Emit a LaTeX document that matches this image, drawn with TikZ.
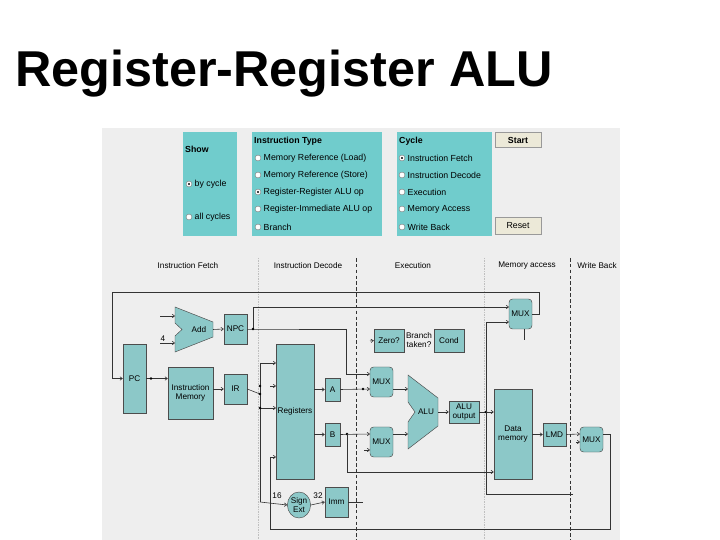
\documentclass[tikz,border=0pt]{standalone}
\usepackage{fontspec}
\setmainfont{Liberation Sans}
\usetikzlibrary{arrows.meta,positioning,shapes.geometric}
\definecolor{panelteal}{RGB}{112,204,204}
\definecolor{blockteal}{RGB}{140,200,200}
\definecolor{panelgray}{RGB}{238,238,238}
\definecolor{btngray}{RGB}{236,233,216}
\tikzset{
    % diagram blocks
    blk/.style={
        rectangle, draw=black!70, fill=blockteal, inner sep=0pt,
        font=\fontsize{7}{7.5}\selectfont, align=center
    },
    muxbox/.style={
        blk, rounded corners=3pt, minimum width=0.69cm, minimum height=0.9cm
    },
    wire/.style={
        draw=black!80, line width=0.5pt
    },
    arrow/.style={
        wire, -{Straight Barb[length=2pt,width=3pt]}
    },
    jdot/.style={
        circle, fill=black, inner sep=0pt, minimum size=2.5pt
    },
    stage/.style={
        font=\fontsize{7}{7.5}\selectfont
    },
    small/.style={
        font=\fontsize{7}{7.5}\selectfont, inner sep=1pt
    },
    panel/.style={
        fill=panelteal, draw=none
    },
    radio/.style={
        circle, draw=black!50, fill=white, inner sep=0pt, minimum size=5pt
    },
    option/.style={
        font=\fontsize{7.5}{8}\selectfont, anchor=west, inner sep=0pt, xshift=2pt
    }
}
\begin{document}
\begin{tikzpicture}[x=0.03cm, y=-0.03cm]
\useasboundingbox (0,0) rectangle (720,540);

% title
\node[anchor=base west, font=\fontsize{43}{46}\selectfont\bfseries, inner sep=0pt] (title) at (15,87) {Register-Register ALU};

% background
\fill[panelgray] (102,128) rectangle (620,540);

% control panel
\fill[panel] (183,132) rectangle (237,236);
\fill[panel] (252,132) rectangle (382,236);
\fill[panel] (397,132) rectangle (492,236);
\node[option, font=\fontsize{7.5}{8}\selectfont\bfseries, xshift=-2pt] (show) at (185,149) {Show};
\node[radio, label={[option]right:by cycle}] (bycycle) at (189,184) {};
\fill (bycycle) circle (1.1);
\node[radio, label={[option]right:all cycles}] (allcycles) at (189,217) {};
\node[option, font=\fontsize{7.5}{8}\selectfont\bfseries, xshift=-2pt] (itype) at (254,141) {Instruction Type};
\node[radio, label={[option]right:Memory Reference (Load)}] (rload) at (258,158) {};
\node[radio, label={[option]right:Memory Reference (Store)}] (rstore) at (258,175) {};
\node[radio, label={[option]right:Register-Register ALU op}] (rrr) at (258,192) {};
\fill (rrr) circle (1.1);
\node[radio, label={[option]right:Register-Immediate ALU op}] (rri) at (258,209) {};
\node[radio, label={[option]right:Branch}] (rbr) at (258,227) {};
\node[option, font=\fontsize{7.5}{8}\selectfont\bfseries, xshift=-2pt] (cycle) at (399,141) {Cycle};
\node[radio, label={[option]right:Instruction Fetch}] (cif) at (402,158) {};
\fill (cif) circle (1.1);
\node[radio, label={[option]right:Instruction Decode}] (cid) at (402,175) {};
\node[radio, label={[option]right:Execution}] (cex) at (402,192) {};
\node[radio, label={[option]right:Memory Access}] (cma) at (402,209) {};
\node[radio, label={[option]right:Write Back}] (cwb) at (402,227) {};
\node[draw=black!40, fill=btngray, minimum width=1.38cm, minimum height=0.45cm, font=\fontsize{7.5}{8}\selectfont\bfseries] (start) at (518,140) {Start};
\node[draw=black!40, fill=btngray, minimum width=1.38cm, minimum height=0.51cm, font=\fontsize{7.5}{8}\selectfont] (reset) at (518,226) {Reset};

% stage labels and separators
\node[stage] (sif) at (188,266) {Instruction Fetch};
\node[stage] (sid) at (308,266) {Instruction Decode};
\node[stage] (sex) at (413,266) {Execution};
\node[stage] (sma) at (527,266) {Memory access};
\node[stage] (swb) at (597,266) {Write Back};
\draw[densely dashed, black!80] (356,258) -- (356,540);
\draw[densely dashed, black!80] (570,258) -- (570,540);
\draw[densely dotted, black!25] (258,258) -- (258,540);
\draw[densely dotted, black!25] (484,258) -- (484,540);

% blocks
\node[blk, minimum width=0.69cm, minimum height=2.07cm] (pc) at (134.5,378.5) {PC};
\node[blk, minimum width=0.69cm, minimum height=0.9cm] (npc) at (235.5,329) {NPC};
\node[blk, minimum width=1.35cm, minimum height=1.56cm] (imem) at (190.5,393) {Instruction\\Memory};
\node[blk, minimum width=0.69cm, minimum height=0.9cm] (ir) at (235.5,389) {IR};
\node[blk, minimum width=1.14cm, minimum height=4.05cm] (regs) at (295,411.5) {Registers};
\node[blk, minimum width=0.45cm, minimum height=0.69cm] (rega) at (332.5,389.5) {A};
\node[blk, minimum width=0.45cm, minimum height=0.69cm] (regb) at (332.5,434.5) {B};
\node[blk, minimum width=0.69cm, minimum height=0.9cm] (imm) at (336.5,502) {Imm};
\node[blk, ellipse, minimum width=0.66cm, minimum height=0.78cm] (sext) at (299,505) {Sign\\Ext};
\node[blk, minimum width=0.9cm, minimum height=0.69cm] (zero) at (389,340.5) {Zero?};
\node[blk, minimum width=0.9cm, minimum height=0.69cm] (cond) at (449,340.5) {Cond};
\node[small, align=center] (taken) at (419,340) {Branch\\taken?};
\node[muxbox] (muxa) at (381.5,382) {MUX};
\node[muxbox] (muxb) at (381.5,442) {MUX};
\node[muxbox] (muxpc) at (520.5,314) {MUX};
\node[muxbox, minimum height=0.75cm] (muxwb) at (591.5,439.5) {MUX};
\node[blk, minimum width=0.9cm, minimum height=0.66cm] (aluout) at (464,412) {ALU\\output};
\node[blk, minimum width=1.14cm, minimum height=2.7cm] (dmem) at (513,434) {Data\\memory};
\node[blk, minimum width=0.69cm, minimum height=0.69cm] (lmd) at (554.5,434.5) {LMD};

% adder and ALU
\draw[blk] (175,307) -- (213,322) -- (213,337) -- (175,352) -- (175,336) -- (182,329.5) -- (175,323) -- cycle;
\node[blk, draw=none, fill=none] (add) at (199,329.5) {Add};
\draw[blk] (408,375) -- (438,398) -- (438,426) -- (408,449) -- (408,422) -- (415,412) -- (408,402) -- cycle;
\node[blk, draw=none, fill=none] (alu) at (426,412) {ALU};

% named points
\coordinate (addina) at (175,316);
\coordinate (addinb) at (175,343);
\coordinate (addout) at (213,329.5);
\coordinate (loopl) at (112,292);
\coordinate (loopr) at (539,292);
\coordinate (npcj) at (253,329);
\coordinate (npcturn) at (346,329);
\coordinate (muxain) at (370,374);
\coordinate (muxaina) at (370,389);
\coordinate (muxbin) at (370,434);
\coordinate (muxbinb) at (370,450);
\coordinate (aluina) at (408,389);
\coordinate (aluinb) at (408,434);
\coordinate (aluo) at (438,412);
\coordinate (irbus) at (260,394);
\coordinate (aj) at (363,389);
\coordinate (bj) at (347,434);
\coordinate (oj) at (486,412);
\coordinate (wbj) at (486,494);
\coordinate (muxpcin) at (509,307);
\coordinate (muxpcinb) at (509,322);
\coordinate (wbend) at (573,494);
\coordinate (muxwbin) at (580,434);
\coordinate (wbr) at (610,529);
\coordinate (wbl) at (270,529);
\coordinate (regsin) at (276,457);

% fetch
\draw[arrow] (160,316) -- (addina);
\draw[arrow] (160,343) -- (addinb) node[pos=0.2, small, above] {4};
\draw[arrow] (addout) -- (npc.west);
\draw[arrow] (muxpc.east) -| (loopr) -- (loopl) |- (pc.west);
\draw[arrow] (pc.east) -- (pc.east -| imem.west);
\node[jdot] at (151,378.5) {};
\draw[arrow] (imem.east |- ir) -- (ir.west);
\draw[wire] (npc.east) -- (npcj) -- (npcturn);
\draw[arrow] (npcturn) |- (muxain);
\draw[arrow] (npcj) |- (muxpcin);
\node[jdot] at (npcj) {};

% decode
\draw[wire] (ir.east) -- (irbus);
\draw[wire] (260,363) -- (260,502);
\draw[arrow] (260,363) -- (276,363);
\draw[arrow] (270,386) -- (276,386);
\draw[arrow] (260,408) -- (276,408);
\node[jdot] at (260,386) {};
\node[jdot] at (irbus) {};
\node[jdot] at (260,408) {};
\draw[arrow] (260,502) -- (sext.west);
\node[small] (w16) at (277,496) {16};
\node[small] (w32) at (318,496) {32};
\draw[arrow] (sext.east) -- (imm.west);
\draw[arrow] (regs.east |- rega) -- (rega.west);
\draw[arrow] (regs.east |- regb) -- (regb.west);

% execute
\draw[arrow] (rega.east) -- (muxaina);
\node[jdot] at (aj) {};
\draw[arrow] (regb.east) -- (muxbin);
\node[jdot] at (bj) {};
\draw[wire] (imm.east) -- (363,502);
\draw[arrow] (364,450) -- (muxbinb);
\draw[arrow] (370,341) -- (zero.west);
\draw[arrow] (muxa.east |- aluina) -- (aluina);
\draw[arrow] (muxb.east |- aluinb) -- (aluinb);
\draw[arrow] (aluo) -- (aluout.west);

% memory and write back
\draw[arrow] (aluout.east) -- (dmem.west |- aluout);
\node[jdot] at (oj) {};
\draw[wire] (wbend) -- (wbj);
\draw[arrow] (wbj) |- (muxpcinb);
\draw[arrow] (bj) |- (dmem.west |- 0,472);
\draw[wire] (524,329) -- (524,340);
\draw[arrow] (dmem.east |- lmd) -- (lmd.west);
\draw[arrow] (lmd.east) -- (muxwbin);
\draw[arrow] (576,442) -- (580,442);
\draw[arrow] (muxwb.east |- muxwbin) -| (wbr) -- (wbl) |- (regsin);
\end{tikzpicture}
\end{document}
